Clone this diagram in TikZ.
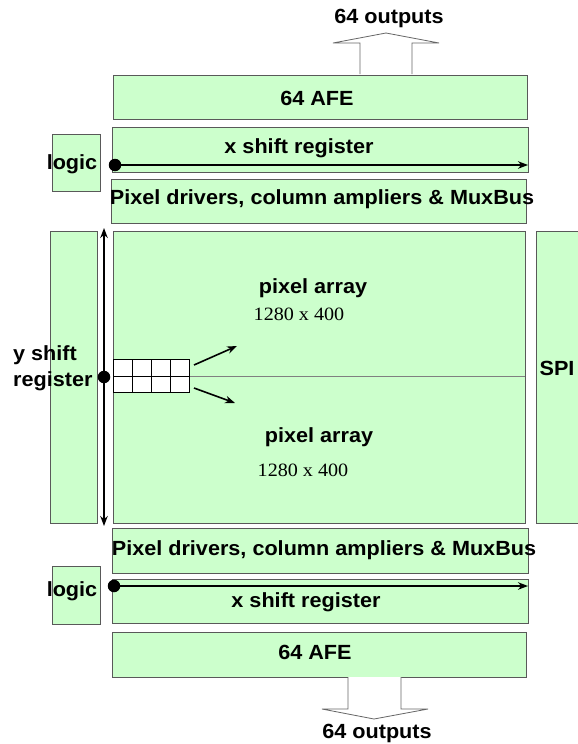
\documentclass[tikz,border=0pt]{standalone}
\usepackage{fontspec}
\setmainfont{Liberation Sans}[FakeStretch=1.055]
\newfontfamily\numfont{Liberation Serif}[FakeStretch=1.07]
\usetikzlibrary{arrows.meta,calc}
\begin{document}
\begin{tikzpicture}[x=1pt,y=-1pt,
  box/.style={draw=black!65,fill=boxgreen,line width=0.9pt},
  lbl/.style={font=\fontsize{20.5}{23}\selectfont\bfseries,inner sep=0pt},
  dim/.style={font=\fontsize{18.8}{21}\selectfont\numfont,inner sep=0pt},
  sig/.style={line width=1.6pt,-{Stealth[length=10pt,width=7.5pt]}},
  bigarrow/.style={draw=black!60,fill=white,line width=0.8pt},
  dotc/.style={circle,fill=black,inner sep=0pt,minimum size=12.5pt}]
\definecolor{boxgreen}{HTML}{CCFFCC}
\useasboundingbox (0,0) rectangle (578,744);
\fill[white] (0,0) rectangle (578,744);

% top boxes
\draw[box] (113,75) rectangle (527,119);
\draw[box] (112,127) rectangle (528,172);
\draw[box] (52,134) rectangle (100,191);
\draw[box] (111,179) rectangle (526,223);
% middle
\draw[box] (50,231) rectangle (97,523);
\draw[box] (113,231) rectangle (525,523);
\draw[box] (536,231) rectangle (590,523);
% bottom boxes
\draw[box] (112,528) rectangle (528,573);
\draw[box] (52,566) rectangle (100,624);
\draw[box] (112,579) rectangle (528,623);
\draw[box] (112,632) rectangle (526,677);

% big output arrows
\draw[bigarrow] (360,74) -- (360,43) -- (333,43) -- (386,33) -- (439,43) -- (412,43) -- (412,74);
\draw[bigarrow] (348,677) -- (348,709) -- (322,709) -- (374,719) -- (428,709) -- (401,709) -- (401,677);

% mid line
\draw[black!50,line width=0.8pt] (113,376) -- (525,376);

% grid
\draw[fill=white,line width=0.9pt,draw=black] (113,359) rectangle (189,392);
\draw[line width=0.9pt,draw=black] (132,359) -- (132,392) (151,359) -- (151,392) (170,359) -- (170,392) (113,376) -- (189,376);

% signal arrows
\node[dotc] (d1) at (115,165) {};
\coordinate (e1) at (528,165);
\draw[sig] (d1.center) -- (e1);
\node[dotc] (d2) at (114,586) {};
\coordinate (e2) at (528,586);
\draw[sig] (d2.center) -- (e2);
\coordinate (yt) at (104,228);
\coordinate (yb) at (104,526);
\draw[line width=1.6pt,{Stealth[length=10pt,width=7.5pt]}-{Stealth[length=10pt,width=7.5pt]}] (yt) -- (yb);
\node[dotc] (d3) at (104,377) {};

\coordinate (a1) at (194,365); \coordinate (a2) at (237,346);
\coordinate (b1) at (194,388); \coordinate (b2) at (235,403);
\draw[sig] (a1) -- (a2);
\draw[sig] (b1) -- (b2);

% texts
\node[lbl] (o1) at (389,18) {64 outputs};
\node[lbl] (afe1) at (317,98) {64 AFE};
\node[lbl] (xs1) at (299,148) {x shift register};
\node[lbl] (lg1) at (72,164) {logic};
\node[lbl] (pd1) at (322,199) {Pixel drivers, column ampliers \& MuxBus};
\node[lbl,anchor=west] (ys1) at (13,355) {y shift};
\node[lbl,anchor=west] (ys2) at (13,381) {register};
\node[lbl] (pa1) at (313,288) {pixel array};
\node[dim] (dm1) at (299,314) {1280 x 400};
\node[lbl] (pa2) at (319,437) {pixel array};
\node[dim] (dm2) at (303,470) {1280 x 400};
\node[lbl] (spi) at (557,368) {SPI};
\node[lbl] (pd2) at (324,550) {Pixel drivers, column ampliers \& MuxBus};
\node[lbl] (lg2) at (72,591) {logic};
\node[lbl] (xs2) at (306,602) {x shift register};
\node[lbl] (afe2) at (315,652) {64 AFE};
\node[lbl] (o2) at (377,733) {64 outputs};
\end{tikzpicture}
\end{document}
